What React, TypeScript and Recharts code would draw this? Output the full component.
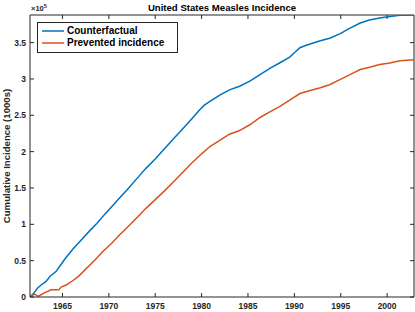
import React from "react";
import {
  LineChart,
  Line,
  XAxis,
  YAxis,
  Legend,
  ReferenceLine,
  Customized,
} from "recharts";

// counterfactual cumulative incidence (x 1e5)
const cfYears = [
  1961.5, 1961.9, 1962.3, 1962.7, 1963.2, 1963.7, 1964.3, 1964.8, 1965.3, 1966.2,
  1967.0, 1968.0, 1968.7, 1969.5, 1970.5, 1971.2, 1972.0, 1973.3, 1974.0, 1975.0,
  1976.0, 1977.0, 1978.0, 1979.0, 1979.8, 1980.3, 1980.9, 1981.5, 1982.0, 1983.0,
  1984.1, 1985.2, 1986.3, 1987.4, 1988.4, 1989.5, 1990.0, 1990.6, 1991.2, 1991.7,
  1992.8, 1993.8, 1994.9, 1996.0, 1997.1, 1998.1, 1999.2, 2000.3, 2001.4, 2002.9,
];
const cfValues = [
  0, 0.05, 0.12, 0.165, 0.21, 0.29, 0.35, 0.44, 0.53, 0.67,
  0.78, 0.92, 1.01, 1.13, 1.27, 1.37, 1.48, 1.67, 1.77, 1.9,
  2.04, 2.18, 2.32, 2.46, 2.575, 2.64, 2.69, 2.74, 2.78, 2.85,
  2.9, 2.97, 3.06, 3.15, 3.22, 3.3, 3.36, 3.43, 3.46, 3.48,
  3.525, 3.56, 3.62, 3.7, 3.77, 3.81, 3.84, 3.86, 3.875, 3.88,
];

// prevented incidence (x 1e5)
const pvYears = [
  1961.5, 1962.0, 1962.4, 1963.1, 1963.8, 1964.2, 1964.6, 1964.9, 1965.4, 1965.95,
  1966.7, 1967.4, 1968.5, 1969.3, 1970.3, 1971.2, 1972.0, 1973.2, 1974.0, 1975.0,
  1976.0, 1977.0, 1978.0, 1979.0, 1980.0, 1980.9, 1982.0, 1983.0, 1984.1, 1985.2,
  1986.3, 1987.4, 1988.4, 1989.5, 1990.6, 1991.7, 1992.8, 1993.8, 1994.9, 1996.0,
  1997.1, 1998.1, 1999.2, 2000.3, 2001.4, 2002.9,
];
const pvValues = [
  0, 0.04, 0.01, 0.06, 0.1, 0.1, 0.1, 0.14, 0.165, 0.21,
  0.28, 0.37, 0.51, 0.62, 0.74, 0.86, 0.96, 1.115, 1.22, 1.34,
  1.46, 1.59, 1.72, 1.85, 1.97, 2.07, 2.16, 2.24, 2.29, 2.37,
  2.47, 2.55, 2.62, 2.71, 2.8, 2.84, 2.88, 2.92, 2.99, 3.06,
  3.13, 3.16, 3.2, 3.22, 3.25, 3.265,
];

const seriesNames = ["Counterfactual", "Prevented incidence"];
const seriesColors = ["#0072BD", "#D95319"];

const xTicks = [1965, 1970, 1975, 1980, 1985, 1990, 1995, 2000];
const yTicks = [0, 50000, 100000, 150000, 200000, 250000, 300000, 350000];
const xDomain = [1961.5, 2002.9];
const yDomain = [0, 388000];

const cfData = cfYears.map((year, i) => ({ year, value: cfValues[i] * 1e5 }));
const pvData = pvYears.map((year, i) => ({ year, value: pvValues[i] * 1e5 }));

const FONT = "'Liberation Sans', Arial, Helvetica, sans-serif";
const AXIS = "#262626";

// inward tick length (~4px) expressed in data units
const tickLenY = (yDomain[1] - yDomain[0]) * 4 / 282;
const tickLenX = (xDomain[1] - xDomain[0]) * 4 / 384;

const BottomTick = (p: any) => (
  <text x={p.x} y={p.y + 12} textAnchor="middle" fontSize={8.5} fontWeight="bold" fill={AXIS} fontFamily={FONT}>
    {p.payload.value}
  </text>
);

const LeftTick = (p: any) => (
  <text x={p.x - 4} y={p.y + 3} textAnchor="end" fontSize={8.5} fontWeight="bold" fill={AXIS} fontFamily={FONT}>
    {p.payload.value / 1e5}
  </text>
);

const LegendBox = () => (
  <div
    style={{
      boxSizing: "border-box",
      width: 141,
      height: 31,
      border: `1px solid ${AXIS}`,
      background: "#fff",
      paddingTop: 1.5,
      fontFamily: FONT,
      fontSize: 10,
      fontWeight: "bold",
      color: "#000",
    }}
  >
    {seriesNames.map((name, i) => (
      <div key={name} style={{ display: "flex", alignItems: "center", height: 12.3, lineHeight: "12.3px" }}>
        <svg width={22} height={4} style={{ marginLeft: 3.5, marginRight: 3.5 }}>
          <line x1={0} x2={22} y1={2} y2={2} stroke={seriesColors[i]} strokeWidth={1.5} />
        </svg>
        <span>{name}</span>
      </div>
    ))}
  </div>
);

const Decorations = () => (
  <g fontFamily={FONT}>
    <text x={222} y={11} textAnchor="middle" fontSize={9.6} fontWeight="bold" fill="#000">
      United States Measles Incidence
    </text>
    <text x={31} y={11} fontSize={7.5} fontWeight="bold" fill={AXIS}>
      ×10
      <tspan dy={-3} fontSize={5.5}>5</tspan>
    </text>
    <text
      x={10}
      y={156}
      textAnchor="middle"
      fontSize={9.6}
      fontWeight="bold"
      fill={AXIS}
      transform="rotate(-90, 10, 156)"
    >
      Cumulative Incidence (1000s)
    </text>
  </g>
);

export default function App() {
  return (
    <div style={{ position: "absolute", left: 0, top: 0, width: 415, height: 312, background: "#fff" }}>
      <LineChart width={415} height={312} margin={{ top: 15, right: 1, bottom: 0, left: 0 }}>
        <XAxis
          dataKey="year"
          type="number"
          domain={xDomain}
          ticks={xTicks}
          allowDataOverflow
          height={15}
          tickSize={0}
          tickMargin={0}
          tickLine={false}
          tick={BottomTick}
          axisLine={{ stroke: AXIS }}
          interval={0}
        />
        <YAxis
          type="number"
          domain={yDomain}
          ticks={yTicks}
          allowDataOverflow
          width={30}
          tickSize={0}
          tickMargin={0}
          tickLine={false}
          tick={LeftTick}
          axisLine={{ stroke: AXIS }}
          interval={0}
        />

        {/* box: top and right edges */}
        <ReferenceLine y={yDomain[1]} stroke={AXIS} ifOverflow="visible" />
        <ReferenceLine x={xDomain[1]} stroke={AXIS} ifOverflow="visible" />

        {/* inward tick marks on all four sides */}
        {xTicks.map((t) => (
          <ReferenceLine
            key={`xb${t}`}
            segment={[{ x: t, y: yDomain[0] }, { x: t, y: yDomain[0] + tickLenY }]}
            stroke={AXIS}
          />
        ))}
        {xTicks.map((t) => (
          <ReferenceLine
            key={`xt${t}`}
            segment={[{ x: t, y: yDomain[1] }, { x: t, y: yDomain[1] - tickLenY }]}
            stroke={AXIS}
          />
        ))}
        {yTicks.map((t) => (
          <ReferenceLine
            key={`yl${t}`}
            segment={[{ x: xDomain[0], y: t }, { x: xDomain[0] + tickLenX, y: t }]}
            stroke={AXIS}
          />
        ))}
        {yTicks.map((t) => (
          <ReferenceLine
            key={`yr${t}`}
            segment={[{ x: xDomain[1], y: t }, { x: xDomain[1] - tickLenX, y: t }]}
            stroke={AXIS}
          />
        ))}

        <Line
          data={cfData}
          dataKey="value"
          name={seriesNames[0]}
          stroke={seriesColors[0]}
          strokeWidth={1.5}
          dot={false}
          type="linear"
          isAnimationActive={false}
        />
        <Line
          data={pvData}
          dataKey="value"
          name={seriesNames[1]}
          stroke={seriesColors[1]}
          strokeWidth={1.5}
          dot={false}
          type="linear"
          isAnimationActive={false}
        />
        <Legend
          layout="vertical"
          align="center"
          verticalAlign="middle"
          wrapperStyle={{ top: 22, left: 37, width: "auto", height: "auto" }}
          content={LegendBox}
        />
        <Customized component={Decorations} />
      </LineChart>
    </div>
  );
}
